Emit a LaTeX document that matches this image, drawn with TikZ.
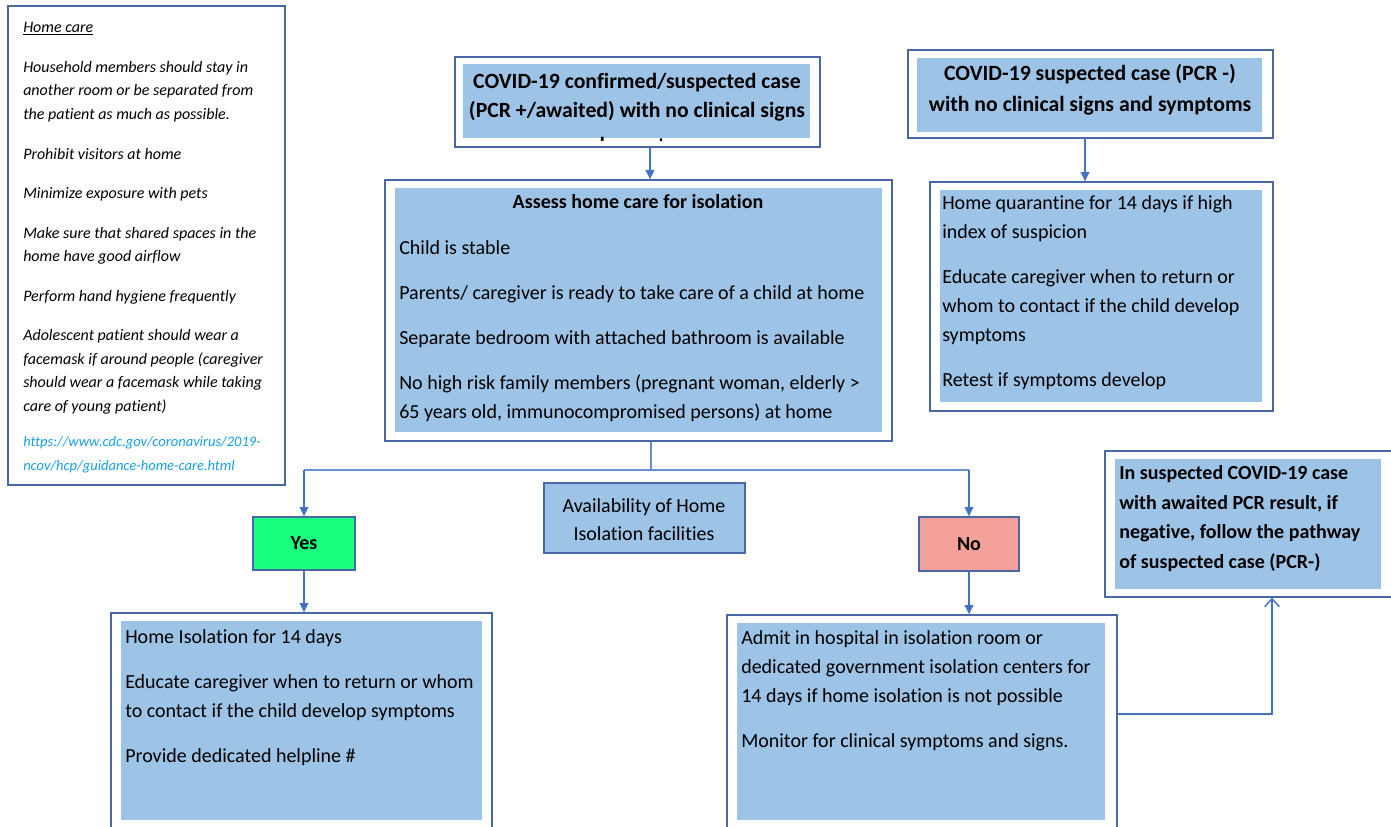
\documentclass[tikz,border=0pt]{standalone}
\usepackage{fontspec}
\setmainfont{Carlito}[Ligatures=NoCommon]
\usetikzlibrary{fit,arrows.meta}
\definecolor{bordc}{HTML}{4A67A6}
\definecolor{boxfill}{HTML}{9DC3E6}
\definecolor{arrc}{HTML}{4472C4}
\definecolor{yesc}{HTML}{19FF7E}
\definecolor{noc}{HTML}{F4A19B}
\definecolor{linkc}{HTML}{1A9FE0}
\tikzset{
  outerbox/.style={draw=bordc, line width=1pt, fill=white, inner sep=0pt},
  innerbox/.style={fill=boxfill, draw=none, inner sep=0pt},
  colbox/.style={draw=bordc, line width=1pt, inner sep=0pt},
  txt/.style={inner sep=0pt, align=left, anchor=base west, font=\fontsize{15pt}{21.75pt}\selectfont},
  ctxt/.style={inner sep=0pt, align=center, anchor=base, font=\fontsize{15pt}{21.75pt}\selectfont},
  hdtxt/.style={inner sep=0pt, align=center, anchor=base, font=\bfseries\fontsize{16.3pt}{21.75pt}\selectfont},
  ittxt/.style={inner sep=0pt, align=left, anchor=base west, font=\itshape\fontsize{12pt}{17.6pt}\selectfont},
  arr/.style={draw=arrc, line width=1.1pt, -{Triangle[length=7pt,width=6.5pt]}},
  openarr/.style={draw=arrc, line width=1.1pt, -{Straight Barb[length=6pt,width=11pt]}},
  conn/.style={draw=arrc!80, line width=1.3pt}
}
\begin{document}
\begin{tikzpicture}[x=0.75pt,y=-0.75pt]
\useasboundingbox (0,0) rectangle (1391,827);
\clip (0,0) rectangle (1391,827);

% Left home-care box
\node[outerbox, fit={(8,6) (285,485)}] (homecare) {};
\node[ittxt] (homecaretxt) at (23,411) {\underline{Home care}\\[12.4pt]
Household members should stay in\\
another room or be separated from\\
the patient as much as possible.\\[12.4pt]
Prohibit visitors at home\\[12pt]
Minimize exposure with pets\\[12pt]
Make sure that shared spaces in the\\
home have good airflow\\[12pt]
Perform hand hygiene frequently\\[12pt]
Adolescent patient should wear a\\
facemask if around people (caregiver\\
should wear a facemask while taking\\
care of young patient)};
\node[inner sep=0pt, align=left, anchor=base west, text=linkc, font=\itshape\fontsize{10.9pt}{18pt}\selectfont] (link) at (23,470) {https://www.cdc.gov/coronavirus/2019-\\ncov/hcp/guidance-home-care.html};

% Top centre box
\node[outerbox, fit={(455,57) (820,147)}] (topc) {};
\node[innerbox, fit={(463,64) (810,138)}] (topcin) {};
\begin{scope}
\clip (455,57) rectangle (820,141);
\node[hdtxt] (topctxt) at (637,153) {COVID-19 confirmed/suspected case\\(PCR +/awaited) with no clinical signs\\[4.5pt]and symptoms};
\end{scope}

% Top right box
\node[outerbox, fit={(908,50) (1273,138)}] (topr) {};
\node[innerbox, fit={(917,58) (1262,132)}] (toprin) {};
\node[hdtxt, font=\bfseries\fontsize{16.3pt}{23.25pt}\selectfont] (toprtxt) at (1090,112) {COVID-19 suspected case (PCR -)\\with no clinical signs and symptoms};

% Assess box
\node[outerbox, fit={(385,180) (892,441)}] (assess) {};
\node[innerbox, fit={(395,188) (882,432)}] (assessin) {};
\node[ctxt, font=\bfseries\fontsize{15pt}{21.75pt}\selectfont] (assesshd) at (638,209) {Assess home care for isolation};
\node[txt] (assesstxt) at (399,418) {Child is stable\\[12pt]
Parents/ caregiver is ready to take care of a child at home\\[12pt]
Separate bedroom with attached bathroom is available\\[12pt]
No high risk family members (pregnant woman, elderly >\\
65 years old, immunocompromised persons) at home};

% Quarantine box
\node[outerbox, fit={(930,182) (1273,411)}] (quar) {};
\node[innerbox, fit={(940,190) (1262,402)}] (quarin) {};
\node[txt] (quartxt) at (942,386) {Home quarantine for 14 days if high\\
index of suspicion\\[12pt]
Educate caregiver when to return or\\
whom to contact if the child develop\\
symptoms\\[12pt]
Retest if symptoms develop};

% Yes / No / Availability
\node[colbox, fill=yesc, fit={(253,517) (355,570)}] (yes) {};
\node[ctxt, font=\bfseries\fontsize{15pt}{21.75pt}\selectfont] (yestxt) at (yes.center) [anchor=center] {Yes};
\node[colbox, fill=noc, fit={(919,517) (1019,571)}] (no) {};
\node[ctxt, font=\bfseries\fontsize{15pt}{21.75pt}\selectfont] (notxt) at (no.center) [anchor=center] {No};
\node[colbox, fill=boxfill, fit={(544,483) (745,553)}] (avail) {};
\node[ctxt, font=\fontsize{15pt}{21pt}\selectfont] (availtxt) at (644,540) {Availability of Home\\Isolation facilities};

% Home isolation box
\node[outerbox, fit={(111,613) (492,840)}] (hiso) {};
\node[innerbox, fit={(121,621) (482,820)}] (hisoin) {};
\node[txt] (hisotxt) at (125,762) {Home Isolation for 14 days\\[12pt]
Educate caregiver when to return or whom\\
to contact if the child develop symptoms\\[12pt]
Provide dedicated helpline \#};

% Admit box
\node[outerbox, fit={(727,615) (1117,840)}] (admit) {};
\node[innerbox, fit={(737,623) (1105,820)}] (admitin) {};
\node[txt] (admittxt) at (741,747) {Admit in hospital in isolation room or\\
dedicated government isolation centers for\\
14 days if home isolation is not possible\\[12pt]
Monitor for clinical symptoms and signs.};

% Right note box
\node[outerbox, fit={(1105,451) (1400,597)}] (note) {};
\node[innerbox, fit={(1115,459) (1381,589)}] (notein) {};
\node[txt, font=\bfseries\fontsize{15pt}{22.1pt}\selectfont] (notetxt) at (1119,568) {In suspected COVID-19 case\\
with awaited PCR result, if\\
negative, follow the pathway\\
of suspected case (PCR-)};

% Connectors
\draw[arr] (650,0 |- topc.south) -- (650,0 |- assess.north);
\draw[arr] (1085,0 |- topr.south) -- (1085,0 |- quar.north);
\coordinate (split) at (651,470);
\draw[conn] (split |- assess.south) -- (split);
\draw[conn] (yes.north |- split) -- (no.north |- split);
\draw[arr] (yes.north |- split) -- (yes.north);
\draw[arr] (no.north |- split) -- (no.north);
\draw[arr] (yes.south) -- (yes.south |- hiso.north);
\draw[arr] (no.south) -- (no.south |- admit.north);
\coordinate (elbow) at (1272,714);
\draw[openarr] (admit.east |- elbow) -- (elbow) -- (elbow |- note.south);
\end{tikzpicture}
\end{document}
